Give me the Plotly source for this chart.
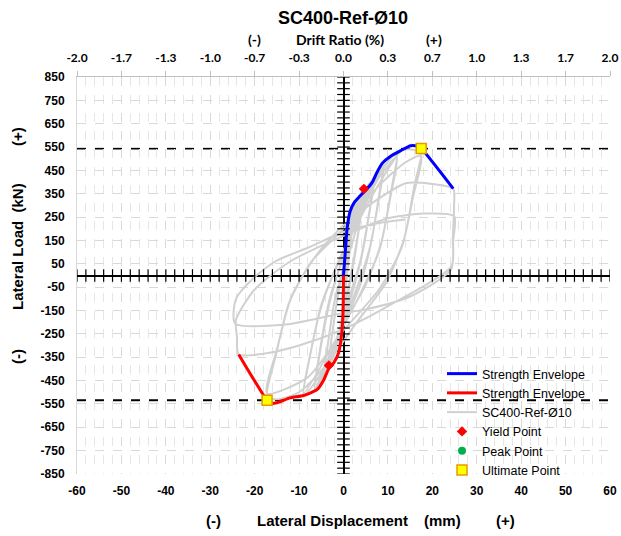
import numpy as np
import plotly.graph_objects as go

# ---------------- data ----------------
title_text = "SC400-Ref-Ø10"
series_name = "SC400-Ref-Ø10"

disp_ticks = [-60, -50, -40, -30, -20, -10, 0, 10, 20, 30, 40, 50, 60]
load_ticks = [-850, -750, -650, -550, -450, -350, -250, -150, -50, 50, 150, 250, 350, 450, 550, 650, 750, 850]
drift_ticks = [-2.0, -5/3, -4/3, -1.0, -2/3, -1/3, 0.0, 1/3, 2/3, 1.0, 4/3, 5/3, 2.0]
drift_labels = ["-2.0", "-1.7", "-1.3", "-1.0", "-0.7", "-0.3", "0.0", "0.3", "0.7", "1.0", "1.3", "1.7", "2.0"]

# hysteresis (grey) path
hyst_disp = [
    0, 0.4, 1.2, 2.3, 1.9, 1.2, 0.5, -0.2, -0.7, -0.4, 0.1, 0.6, 1.4, 2.3, 1.9, 1.0, 0.3, -0.7, -0.35, 0.2,
    0.9, 2.6, 4.6, 3.9, 2.6, 1.2, -0.6, -2.2, -3.3, -2.6, -1.3, 0.2, 2.0, 3.6, 4.6, 3.7, 2.2, 0.7, -1.5, -3.3, -2.4, -0.9,
    0.8, 3.5, 5.5, 6.8, 5.9, 4.3, 2.2, -0.6, -2.8, -4.5, -3.7, -2.1, 0.2, 3.0, 5.4, 6.8, 5.7, 3.9, 1.2, -2.0, -4.5, -3.5, -1.7,
    1.2, 4.5, 7.0, 9.0, 7.9, 6.1, 3.6, 0.0, -3.5, -6.5, -5.4, -3.3, -0.6, 3.0, 6.5, 9.0, 7.8, 5.8, 2.5, -2.0, -6.5, -5.3, -3.1,
    0.0, 4.0, 8.0, 12.0, 10.7, 8.5, 5.0, 0.0, -4.5, -9.0, -7.6, -5.1, -1.6, 3.5, 8.0, 12.0, 10.6, 8.1, 4.0, -2.0, -9.0, -7.4, -4.9,
    -1.0, 4.0, 10.0, 13.0, 15.1, 16.6, 17.5, 16.0, 13.7, 9.6, 3.0, -4.0, -10.0, -15.0, -17.2, -15.2, -12.3, -7.2, 0.0, 8.0, 14.0, 17.5,
    15.7, 13.1, 8.0, 0.0, -8.0, -17.2, -14.9, -11.7,
    -6.0, 0.0, 8.0, 14.0, 20.0, 24.7, 24.9, 24.6, 24.3, 12.0, 0.0, -10.0, -18.0, -23.6, -24.0, -24.2, -20.0, -12.0, 0.0, 10.0, 18.0, 24.9,
    24.7, 24.2, 15.0, 5.0, 0.0, -13.0, -24.4, -24.2, -20.6, -15.3, -7.9, -0.3, 8.0, 14.0,
]
hyst_load = [
    0, 110, 254, 311, 200, 70, -50, -190, -303, -190, -60, 80, 230, 300, 190, 50, -70, -295, -160, -10,
    140, 300, 371, 260, 90, -60, -230, -345, -381, -260, -90, 60, 230, 330, 360, 230, 60, -90, -280, -372, -230, -50,
    110, 300, 385, 411, 280, 100, -60, -230, -365, -455, -320, -120, 50, 260, 370, 398, 260, 70, -100, -310, -442, -290, -80,
    90, 300, 425, 485, 330, 130, -50, -210, -385, -495, -340, -130, 50, 250, 410, 472, 310, 110, -80, -290, -487, -320, -100,
    80, 280, 435, 525, 360, 140, -40, -210, -405, -514, -350, -140, 40, 250, 420, 507, 340, 110, -70, -285, -505, -330, -120,
    60, 255, 455, 535, 540, 535, 525, 390, 160, -30, -200, -385, -500, -530, -520, -340, -120, 60, 200, 385, 485, 512,
    340, 120, -60, -235, -435, -505, -310, -90,
    90, 215, 330, 395, 392, 372, 300, 160, 40, -110, -230, -300, -335, -338, -260, -190, -60, 60, 170, 245, 265, 254,
    150, 26, -90, -145, -160, -210, -205, -100, -17, 61, 120, 184, 225, 240,
]

# strength envelopes
env_pos_disp = [0, 0.4, 0.8, 1.5, 2.5, 3.6, 5.0, 6.5, 7.5, 8.7, 10.6, 12.9, 15.1, 16.6, 17.5, 24.7]
env_pos_load = [0, 100, 200, 275, 315, 338, 365, 400, 440, 480, 511, 535, 556, 554, 544, 372]
env_neg_disp = [0, -0.05, -0.2, -0.5, -1.1, -2.2, -3.3, -4.4, -5.9, -9.0, -12.0, -15.0, -16.1, -17.2, -23.6]
env_neg_load = [0, -117, -200, -265, -331, -374, -398, -445, -488, -514, -524, -545, -548, -534, -338]

yield_disp = [4.6, -3.3]
yield_load = [371, -385]
peak_disp = [17.5, -17.2]
peak_load = [544, -534]
ult_disp = [17.5, -17.2]
ult_load = [544, -534]

col_height = 3000.0  # mm, drift = disp / height * 100

# ---------------- figure ----------------
FONT = "Liberation Sans, Arial, sans-serif"
XR = [-60, 60]
YR = [-850, 850]
W, H = 621, 536
ML, MR, MT, MB = 77, 11, 77, 62

fig = go.Figure()

fig.add_trace(go.Scatter(
    x=hyst_disp, y=hyst_load, mode="lines", name=series_name,
    line=dict(color="#d0d0d0", width=2, shape="spline", smoothing=0.7),
    legendrank=3, hoverinfo="skip"))

# axis cross tick marks (decoration)
xt = np.arange(-60, 61, 2)
yt = np.arange(-850, 851, 25)
fig.add_trace(go.Scatter(x=xt, y=np.zeros_like(xt), mode="markers", showlegend=False, hoverinfo="skip",
                         marker=dict(symbol="line-ns", size=9, color="black", line=dict(width=1.2, color="black"))))
fig.add_trace(go.Scatter(x=np.zeros_like(yt), y=yt, mode="markers", showlegend=False, hoverinfo="skip",
                         marker=dict(symbol="line-ew", size=9, color="black", line=dict(width=1.2, color="black"))))

fig.add_trace(go.Scatter(
    x=env_pos_disp, y=env_pos_load, mode="lines", name="Strength Envelope",
    line=dict(color="#0000ff", width=3, shape="spline", smoothing=0.5), legendrank=1))
fig.add_trace(go.Scatter(
    x=env_neg_disp, y=env_neg_load, mode="lines", name="Strength Envelope",
    line=dict(color="#ff0000", width=3, shape="spline", smoothing=0.5), legendrank=2))

fig.add_trace(go.Scatter(
    x=yield_disp, y=yield_load, mode="markers", name="Yield Point",
    marker=dict(symbol="diamond", size=8, color="#ff0000"), legendrank=4))
fig.add_trace(go.Scatter(
    x=peak_disp, y=peak_load, mode="markers", name="Peak Point",
    marker=dict(symbol="circle", size=8, color="#00b050"), legendrank=5))
fig.add_trace(go.Scatter(
    x=ult_disp, y=ult_load, mode="markers", name="Ultimate Point",
    marker=dict(symbol="square", size=10, color="#ffff00", line=dict(color="#e69a00", width=1.5)), legendrank=6))

# dummy trace on top (drift) axis
fig.add_trace(go.Scatter(
    x=[XR[0] / col_height * 100, XR[1] / col_height * 100], y=[0, 0], xaxis="x2",
    mode="markers", marker=dict(opacity=0), showlegend=False, hoverinfo="skip"))

# dashed ultimate load lines
for v in ult_load:
    fig.add_shape(type="line", xref="paper", x0=0, x1=1, yref="y", y0=v, y1=v,
                  line=dict(color="black", width=2, dash="dash"), layer="between")

fig.update_layout(
    width=W, height=H,
    margin=dict(l=ML, r=MR, t=MT, b=MB, autoexpand=False),
    paper_bgcolor="white", plot_bgcolor="white",
    font=dict(family=FONT, color="black", size=12),
    showlegend=True,
    legend=dict(xref="container", yref="container", x=442 / W, y=1 - 359 / H,
                xanchor="left", yanchor="top",
                bgcolor="rgba(0,0,0,0)", font=dict(family=FONT, size=12.5, color="black"),
                tracegroupgap=0, itemwidth=30),
    xaxis=dict(range=XR, tickmode="array", tickvals=disp_ticks,
               ticktext=[str(v) for v in disp_ticks],
               tickfont=dict(family=FONT, size=12, color="black", weight="bold"),
               showgrid=True, gridcolor="#d9d9d9", griddash="dash", gridwidth=1,
               minor=dict(dtick=2, showgrid=True, gridcolor="#e6e6e6", griddash="dash", gridwidth=1),
               zeroline=True, zerolinecolor="black", zerolinewidth=1.5,
               showline=False, ticks="", ticklabelstandoff=8, automargin=False),
    xaxis2=dict(range=[XR[0] / col_height * 100, XR[1] / col_height * 100], overlaying="x", side="top",
                tickmode="array", tickvals=drift_ticks, ticktext=drift_labels,
                tickfont=dict(family="Lato, sans-serif", size=12, color="black", weight="bold"),
                showgrid=False, zeroline=False, showline=True, linecolor="#bfbfbf", linewidth=1,
                ticks="outside", ticklen=5, tickcolor="#bfbfbf", ticklabelstandoff=4, automargin=False),
    yaxis=dict(range=YR, tickmode="array", tickvals=load_ticks,
               ticktext=[str(v) for v in load_ticks],
               tickfont=dict(family=FONT, size=12, color="black", weight="bold"),
               showgrid=True, gridcolor="#d9d9d9", griddash="dash", gridwidth=1,
               zeroline=True, zerolinecolor="black", zerolinewidth=1.5,
               showline=True, linecolor="#d9d9d9", ticks="", ticklabelstandoff=9, automargin=False),
)

ann = []
ann.append(dict(text="<b>" + title_text + "</b>", x=343, y=18))
fs = 15
# top axis title
for t, xp in [("(-)", 254), ("Drift Ratio (%)", 340), ("(+)", 434)]:
    ann.append(dict(text="<b>" + t + "</b>", x=xp, y=40, font=dict(family="Lato, sans-serif", size=14, color="black")))
# bottom axis title
for t, xp in [("(-)", 213), ("Lateral Displacement", 332), ("(mm)", 442), ("(+)", 505)]:
    ann.append(dict(text="<b>" + t + "</b>", x=xp, y=520, font=dict(family=FONT, size=fs, color="black")))
# left axis title
for t, yp in [("(+)", 137), ("Lateral Load  (kN)", 247), ("(-)", 357)]:
    ann.append(dict(text="<b>" + t + "</b>", x=17, y=yp, textangle=-90, font=dict(family=FONT, size=fs, color="black")))

for a in ann:
    px, py = a.pop("x"), a.pop("y")
    font = a.pop("font", dict(family=FONT, size=18, color="black"))
    fig.add_annotation(xref="paper", yref="paper",
                       x=(px - ML) / (W - ML - MR), y=(H - MB - py) / (H - MT - MB),
                       xanchor="center", yanchor="middle", showarrow=False, font=font, **a)

fig.write_html("out.html")
